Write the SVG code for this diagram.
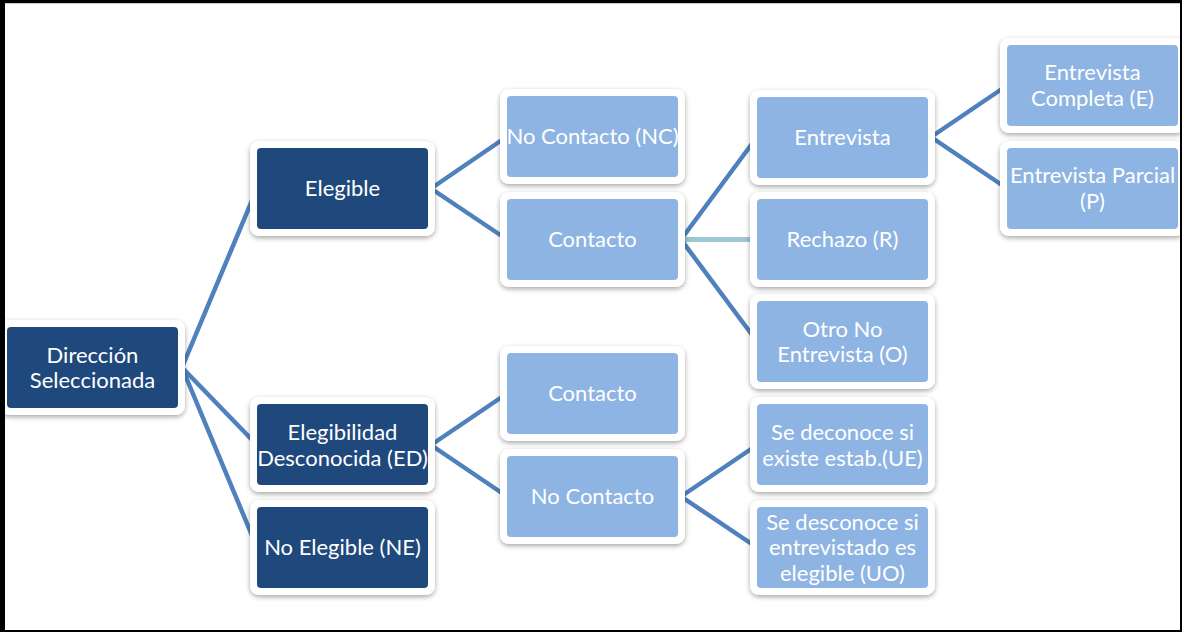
<svg xmlns="http://www.w3.org/2000/svg" width="1182" height="632" viewBox="0 0 1182 632">
<defs>
<filter id="sh" x="-20%" y="-20%" width="140%" height="150%">
<feDropShadow dx="0" dy="2" stdDeviation="2.5" flood-color="#000" flood-opacity="0.35"/>
</filter>
<style>
.frame{fill:#fff;filter:url(#sh)}
.dark{fill:#1F497D}
.light{fill:#8EB4E3}
.t{font-family:Lato,"Liberation Sans",sans-serif;font-size:22px;fill:#fff;text-anchor:middle}
.c{stroke:#4F81BD;stroke-width:4.5;fill:none}
.cl{stroke:#9DC6D6;stroke-width:5;fill:none}
</style>
</defs>
<rect x="0" y="0" width="1182" height="632" fill="#fff"/>
<g id="connectors">
<line class="c" x1="182" y1="367.5" x2="257" y2="188.5"/>
<line class="c" x1="182" y1="367.5" x2="257" y2="445"/>
<line class="c" x1="182" y1="367.5" x2="257" y2="547.5"/>
<line class="c" x1="431" y1="188.5" x2="507" y2="136.5"/>
<line class="c" x1="431" y1="188.5" x2="507" y2="239.5"/>
<line class="c" x1="681" y1="239.5" x2="757" y2="137"/>
<line class="cl" x1="681" y1="239.5" x2="757" y2="239.5"/>
<line class="c" x1="681" y1="239.5" x2="757" y2="341.5"/>
<line class="c" x1="931" y1="137" x2="1007" y2="85.5"/>
<line class="c" x1="931" y1="137" x2="1007" y2="188.5"/>
<line class="c" x1="431" y1="445" x2="507" y2="393.5"/>
<line class="c" x1="431" y1="445" x2="507" y2="496.5"/>
<line class="c" x1="681" y1="496.5" x2="757" y2="445"/>
<line class="c" x1="681" y1="496.5" x2="757" y2="547.5"/>
</g>
<g id="n-direccion">
<rect class="frame" x="0" y="320" width="185" height="95" rx="9"/>
<rect class="dark" x="7" y="327" width="171" height="81" rx="4"/>
<text class="t" x="92.5" y="362.5">Dirección</text>
<text class="t" x="92.5" y="388">Seleccionada</text>
</g>
<g id="n-elegible">
<rect class="frame" x="250" y="141" width="185" height="95" rx="9"/>
<rect class="dark" x="257" y="148" width="171" height="81" rx="4"/>
<text class="t" x="342.5" y="196">Elegible</text>
</g>
<g id="n-ed">
<rect class="frame" x="250" y="397" width="185" height="95" rx="9"/>
<rect class="dark" x="257" y="404" width="171" height="81" rx="4"/>
<text class="t" x="342.5" y="440">Elegibilidad</text>
<text class="t" x="342.5" y="465.5">Desconocida (ED)</text>
</g>
<g id="n-ne">
<rect class="frame" x="250" y="500" width="185" height="95" rx="9"/>
<rect class="dark" x="257" y="507" width="171" height="81" rx="4"/>
<text class="t" x="342.5" y="555">No Elegible (NE)</text>
</g>
<g id="n-nc">
<rect class="frame" x="500" y="89" width="185" height="95" rx="9"/>
<rect class="light" x="507" y="96" width="171" height="81" rx="4"/>
<text class="t" x="592.5" y="144">No Contacto (NC)</text>
</g>
<g id="n-contacto">
<rect class="frame" x="500" y="192" width="185" height="95" rx="9"/>
<rect class="light" x="507" y="199" width="171" height="81" rx="4"/>
<text class="t" x="592.5" y="247">Contacto</text>
</g>
<g id="n-contacto2">
<rect class="frame" x="500" y="346" width="185" height="95" rx="9"/>
<rect class="light" x="507" y="353" width="171" height="81" rx="4"/>
<text class="t" x="592.5" y="401">Contacto</text>
</g>
<g id="n-nocontacto">
<rect class="frame" x="500" y="449" width="185" height="95" rx="9"/>
<rect class="light" x="507" y="456" width="171" height="81" rx="4"/>
<text class="t" x="592.5" y="504">No Contacto</text>
</g>
<g id="n-entrevista">
<rect class="frame" x="750" y="90" width="185" height="95" rx="9"/>
<rect class="light" x="757" y="97" width="171" height="81" rx="4"/>
<text class="t" x="842.5" y="144.5">Entrevista</text>
</g>
<g id="n-rechazo">
<rect class="frame" x="750" y="192" width="185" height="95" rx="9"/>
<rect class="light" x="757" y="199" width="171" height="81" rx="4"/>
<text class="t" x="842.5" y="247">Rechazo (R)</text>
</g>
<g id="n-otro">
<rect class="frame" x="750" y="294" width="185" height="95" rx="9"/>
<rect class="light" x="757" y="301" width="171" height="81" rx="4"/>
<text class="t" x="842.5" y="336.5">Otro No</text>
<text class="t" x="842.5" y="362">Entrevista (O)</text>
</g>
<g id="n-ue">
<rect class="frame" x="750" y="397" width="185" height="95" rx="9"/>
<rect class="light" x="757" y="404" width="171" height="81" rx="4"/>
<text class="t" x="842.5" y="440">Se deconoce si</text>
<text class="t" x="842.5" y="465.5">existe estab.(UE)</text>
</g>
<g id="n-uo">
<rect class="frame" x="750" y="500" width="185" height="95" rx="9"/>
<rect class="light" x="757" y="507" width="171" height="81" rx="4"/>
<text class="t" x="842.5" y="529.5">Se desconoce si</text>
<text class="t" x="842.5" y="555">entrevistado es</text>
<text class="t" x="842.5" y="580.5">elegible (UO)</text>
</g>
<g id="n-completa">
<rect class="frame" x="1000" y="38" width="185" height="95" rx="9"/>
<rect class="light" x="1007" y="45" width="171" height="81" rx="4"/>
<text class="t" x="1092.5" y="80">Entrevista</text>
<text class="t" x="1092.5" y="105.5">Completa (E)</text>
</g>
<g id="n-parcial">
<rect class="frame" x="1000" y="141" width="185" height="95" rx="9"/>
<rect class="light" x="1007" y="148" width="171" height="81" rx="4"/>
<text class="t" x="1092.5" y="183">Entrevista Parcial</text>
<text class="t" x="1092.5" y="208.5">(P)</text>
</g>
<g id="border">
<rect x="0" y="0" width="1182" height="3" fill="#000"/>
<rect x="0" y="0" width="5" height="632" fill="#000"/>
<rect x="1180" y="0" width="2" height="632" fill="#000"/>
<rect x="0" y="630" width="1182" height="2" fill="#000"/>
<line x1="5" y1="3.5" x2="1180" y2="3.5" stroke="#c8c8c8" stroke-width="1"/>
</g>
</svg>
